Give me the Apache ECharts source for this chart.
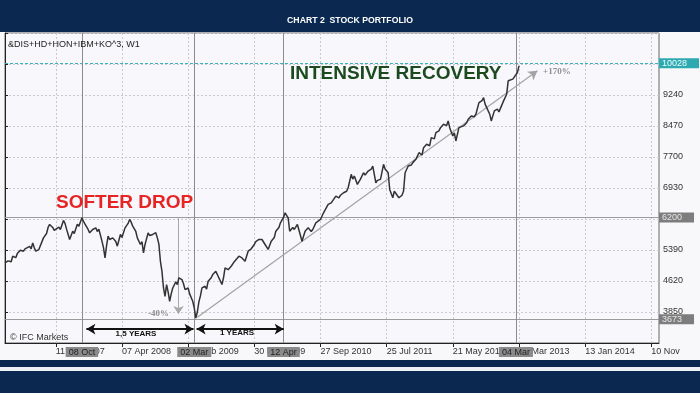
<!DOCTYPE html>
<html><head><meta charset="utf-8">
<script src="https://cdn.jsdelivr.net/npm/echarts@6/dist/echarts.min.js"></script>
<style>html,body{margin:0;padding:0;background:#f8f8fb;}#c{width:700px;height:393px;}</style>
</head><body><div id="c"></div>
<script>
// Week index 0 = week of 23 Oct 2006 (weekly bars, W1)
const tickWeeks = [33, 76, 119, 162, 205, 248, 291, 334, 377, 420];
const tickLabels = ['11 Jun 2007', '07 Apr 2008', '02 Feb 2009', '30 Nov 2009', '27 Sep 2010', '25 Jul 2011', '21 May 2012', '18 Mar 2013', '13 Jan 2014', '10 Nov'];
const weeks = [0,2,3,4,5,7,8,10,12,13,14,16,17,18,19,20,22,23,25,26,27,28,29,31,32,33,35,36,38,39,40,41,42,44,45,47,48,50,51,52,54,55,57,59,60,61,63,64,65,66,67,68,70,72,73,75,76,78,80,81,82,83,85,86,88,89,90,91,93,94,96,98,99,100,101,102,103,104,105,106,107,108,109,111,112,113,115,116,117,119,120,122,123,124,125,126,127,128,130,131,132,134,135,137,138,139,141,142,143,145,147,149,150,152,154,156,158,160,162,163,165,167,169,171,173,175,176,178,179,181,182,184,185,187,188,190,192,193,195,197,199,200,202,205,207,208,210,212,213,215,217,218,220,222,223,225,226,227,229,231,233,234,236,238,239,241,242,244,246,247,249,250,252,253,254,256,258,259,260,262,264,265,267,269,271,272,274,276,277,279,280,282,283,285,287,288,289,291,292,293,295,296,298,300,301,303,305,306,308,310,311,312,314,315,316,318,320,321,322,324,326,327,328,330,331,333,334];
const prices = [5070,5120,5150,5100,5236,5200,5300,5385,5360,5420,5442,5480,5420,5567,5450,5360,5400,5442,5691,5650,5800,5950,6025,5950,5880,5908,5958,5900,6124,6050,5908,5780,5652,5858,5800,6032,5980,6189,6100,6032,5900,5816,5900,5940,5850,5908,5609,5450,5194,5500,5734,5650,5691,5600,5485,5776,5700,5940,6050,6149,6080,5983,5850,5691,5527,5600,5318,5527,5816,5750,5776,5820,5691,5535,5110,4860,4447,4240,4530,4350,4116,4300,4447,4600,4530,4700,4656,4550,4407,4447,4300,4116,3950,3700,3850,4100,4250,4447,4489,4420,4614,4700,4780,4862,4780,4696,4532,4700,4945,4900,4987,5100,5069,5236,5194,5111,5360,5420,5527,5600,5651,5651,5527,5403,5609,5700,5858,5950,6065,6200,6314,6189,5858,5950,5900,6025,5750,5609,5858,5940,5850,5900,6065,6149,6314,6280,6523,6560,6605,6729,6687,6750,6812,6850,6936,7269,7150,7227,7020,7150,7309,7250,7352,7400,7476,7060,7120,7145,7518,7400,7309,6895,6687,6850,6811,6687,6750,6853,7309,7476,7500,7560,7642,7807,7750,7932,8016,7980,8180,8150,8305,8350,8429,8512,8480,8596,8429,8223,8300,8098,8429,8380,8472,8550,8638,8720,8700,8763,9051,9100,9176,9012,8845,8763,8596,8845,8887,8820,8804,9094,9260,9592,9560,9634,9675,9800,9965];
const yTicksMin = 3080, yTicksMax = 10780, yStep = 770;
const levels = [10028, 6200, 3673];
const markWeeks = [50, 123, 181, 332];
const markLabels = ['08 Oct', '02 Mar', '12 Apr', '04 Mar'];
const trendStart = [125, 3720], trendEnd = [346, 9840];
const dropWeek = 112.75, dropFrom = 6200, dropTo = 3800;
const spanLevel = 3426;
const span1 = [52.9, 122.5], span2 = [124.5, 181.1];

const FONT = 'Liberation Sans, Arial, sans-serif';
const chart = echarts.init(document.getElementById('c'), null, {renderer: 'canvas'});

const boxLabelY = (txt, bg, fg) => ({show: true, position: 'end', distance: 0, formatter: txt,
  backgroundColor: bg, color: fg, fontSize: 9, fontFamily: FONT, padding: [1, 12, 0, 3], align: 'left'});
const boxLabelX = (txt) => ({show: true, position: 'start', distance: 4, formatter: txt,
  backgroundColor: '#8a8a8a', color: '#222', fontSize: 9, fontFamily: FONT, padding: [1, 3, 0, 3]});

const mlData = [
  {yAxis: levels[0], lineStyle: {color: '#3bb3ba', type: [3, 2], width: 1}, label: boxLabelY(String(levels[0]), '#2fa9b0', '#eaffff')},
  {yAxis: levels[1], lineStyle: {color: '#9a9a9a', type: 'solid', width: 1}, label: boxLabelY(String(levels[1]), '#7d7d7d', '#e6e6e6')},
  {yAxis: levels[2], lineStyle: {color: '#9a9a9a', type: 'solid', width: 1}, label: boxLabelY(String(levels[2]), '#7d7d7d', '#e6e6e6')}
];
markWeeks.forEach((w, i) => mlData.push({xAxis: w, lineStyle: {color: '#8c8c8c', type: 'solid', width: 1}, label: boxLabelX(markLabels[i])}));
mlData.push([{coord: trendStart, symbol: 'none', lineStyle: {color: '#a3a3a3', width: 1.2, type: 'solid'}}, {coord: trendEnd, symbol: 'arrow', symbolSize: [8, 9]}]);
mlData.push([{coord: [dropWeek, dropFrom], symbol: 'none', lineStyle: {color: '#a8a8a8', width: 1, type: 'solid'}}, {coord: [dropWeek, dropTo], symbol: 'arrow', symbolSize: [8, 8]}]);
mlData.push([{coord: [span1[0], spanLevel], symbol: 'arrow', symbolSize: [8, 9], lineStyle: {color: '#111', width: 2, type: 'solid'}}, {coord: [span1[1], spanLevel], symbol: 'arrow', symbolSize: [8, 9]}]);
mlData.push([{coord: [span2[0], spanLevel], symbol: 'arrow', symbolSize: [8, 9], lineStyle: {color: '#111', width: 2, type: 'solid'}}, {coord: [span2[1], spanLevel], symbol: 'arrow', symbolSize: [8, 9]}]);

const option = {
  animation: false,
  backgroundColor: '#f8f8fb',
  title: {text: 'CHART 2  STOCK PORTFOLIO', left: 'center', top: 11,
    textStyle: {color: '#ffffff', fontSize: 8.7, fontWeight: 'bold', fontFamily: FONT}},
  grid: {left: 5, right: 41, top: 33, bottom: 50, show: true, backgroundColor: '#f8f8fc', borderColor: '#666', borderWidth: 1},
  xAxis: {type: 'value', min: 0, max: 425,
    axisLine: {show: true, onZero: false, lineStyle: {color: '#222'}},
    axisTick: {show: true, customValues: tickWeeks, length: 4, lineStyle: {color: '#222'}},
    axisLabel: {show: true, customValues: tickWeeks, align: 'left', margin: 4, fontSize: 9, color: '#333', fontFamily: FONT,
      formatter: v => { const i = tickWeeks.indexOf(Math.round(v)); return i >= 0 ? tickLabels[i] : ''; }},
    splitLine: {show: false}},
  yAxis: {type: 'value', position: 'right', min: yTicksMin, max: yTicksMax, interval: yStep, scale: true,
    axisLine: {show: true, lineStyle: {color: '#222'}},
    axisTick: {show: true, length: 3, lineStyle: {color: '#222'}},
    axisLabel: {margin: 4, fontSize: 9, color: '#333', fontFamily: FONT,
      formatter: v => (v === yTicksMin || v === yTicksMax) ? '' : String(v)},
    splitLine: {show: true, lineStyle: {color: '#c9c9cf', type: [2, 2]}}},
  graphic: [
    {type: 'rect', shape: {x: 0, y: 0, width: 700, height: 32}, style: {fill: '#0b2850'}, z: 0},
    {type: 'rect', shape: {x: 0, y: 360, width: 700, height: 7}, style: {fill: '#0b2850'}, z: 0},
    {type: 'rect', shape: {x: 0, y: 367, width: 700, height: 4}, style: {fill: '#eef1f6'}, z: 0},
    {type: 'rect', shape: {x: 0, y: 371, width: 700, height: 22}, style: {fill: '#0b2850'}, z: 0},
    {type: 'text', x: 8, y: 45, z: 100, style: {text: '&DIS+HD+HON+IBM+KO^3, W1', fill: '#222', font: '9px ' + FONT, textVerticalAlign: 'middle'}},
    {type: 'text', x: 56, y: 203, z: 100, style: {text: 'SOFTER DROP', fill: '#e62424', font: 'bold 19px ' + FONT, textVerticalAlign: 'middle'}},
    {type: 'text', x: 290, y: 74, z: 100, style: {text: 'INTENSIVE RECOVERY', fill: '#1b4a1e', font: 'bold 19px ' + FONT, textVerticalAlign: 'middle'}},
    {type: 'text', x: 148, y: 314, z: 100, style: {text: '-40%', fill: '#909090', font: 'bold 9px Liberation Serif, serif', textVerticalAlign: 'middle'}},
    {type: 'text', x: 543, y: 72, z: 100, style: {text: '+170%', fill: '#909090', font: 'bold 9px Liberation Serif, serif', textVerticalAlign: 'middle'}},
    {type: 'text', x: 136, y: 334, z: 100, style: {text: '1,5 YEARS', fill: '#111', font: 'bold 8px ' + FONT, textAlign: 'center', textVerticalAlign: 'middle'}},
    {type: 'text', x: 237, y: 333, z: 100, style: {text: '1 YEARS', fill: '#111', font: 'bold 8px ' + FONT, textAlign: 'center', textVerticalAlign: 'middle'}},
    {type: 'text', x: 10, y: 338, z: 100, style: {text: '\u00A9 IFC Markets', fill: '#333', font: '9px ' + FONT, textVerticalAlign: 'middle'}}
  ],
  series: [
    {type: 'line', data: [], z: 1, silent: true,
      markLine: {silent: true, symbol: 'none', animation: false, z: 1, label: {show: false},
        lineStyle: {color: '#c9c9cf', type: [2, 2], width: 1},
        data: tickWeeks.map(w => ({xAxis: w}))}},
    {type: 'line', data: weeks.map((w, i) => [w, prices[i]]), showSymbol: false, symbol: 'none', z: 5,
      lineStyle: {color: '#333333', width: 1.5},
      markLine: {silent: true, symbol: 'none', animation: false, z: 4, data: mlData}}
  ]
};
chart.setOption(option);
</script></body></html>
